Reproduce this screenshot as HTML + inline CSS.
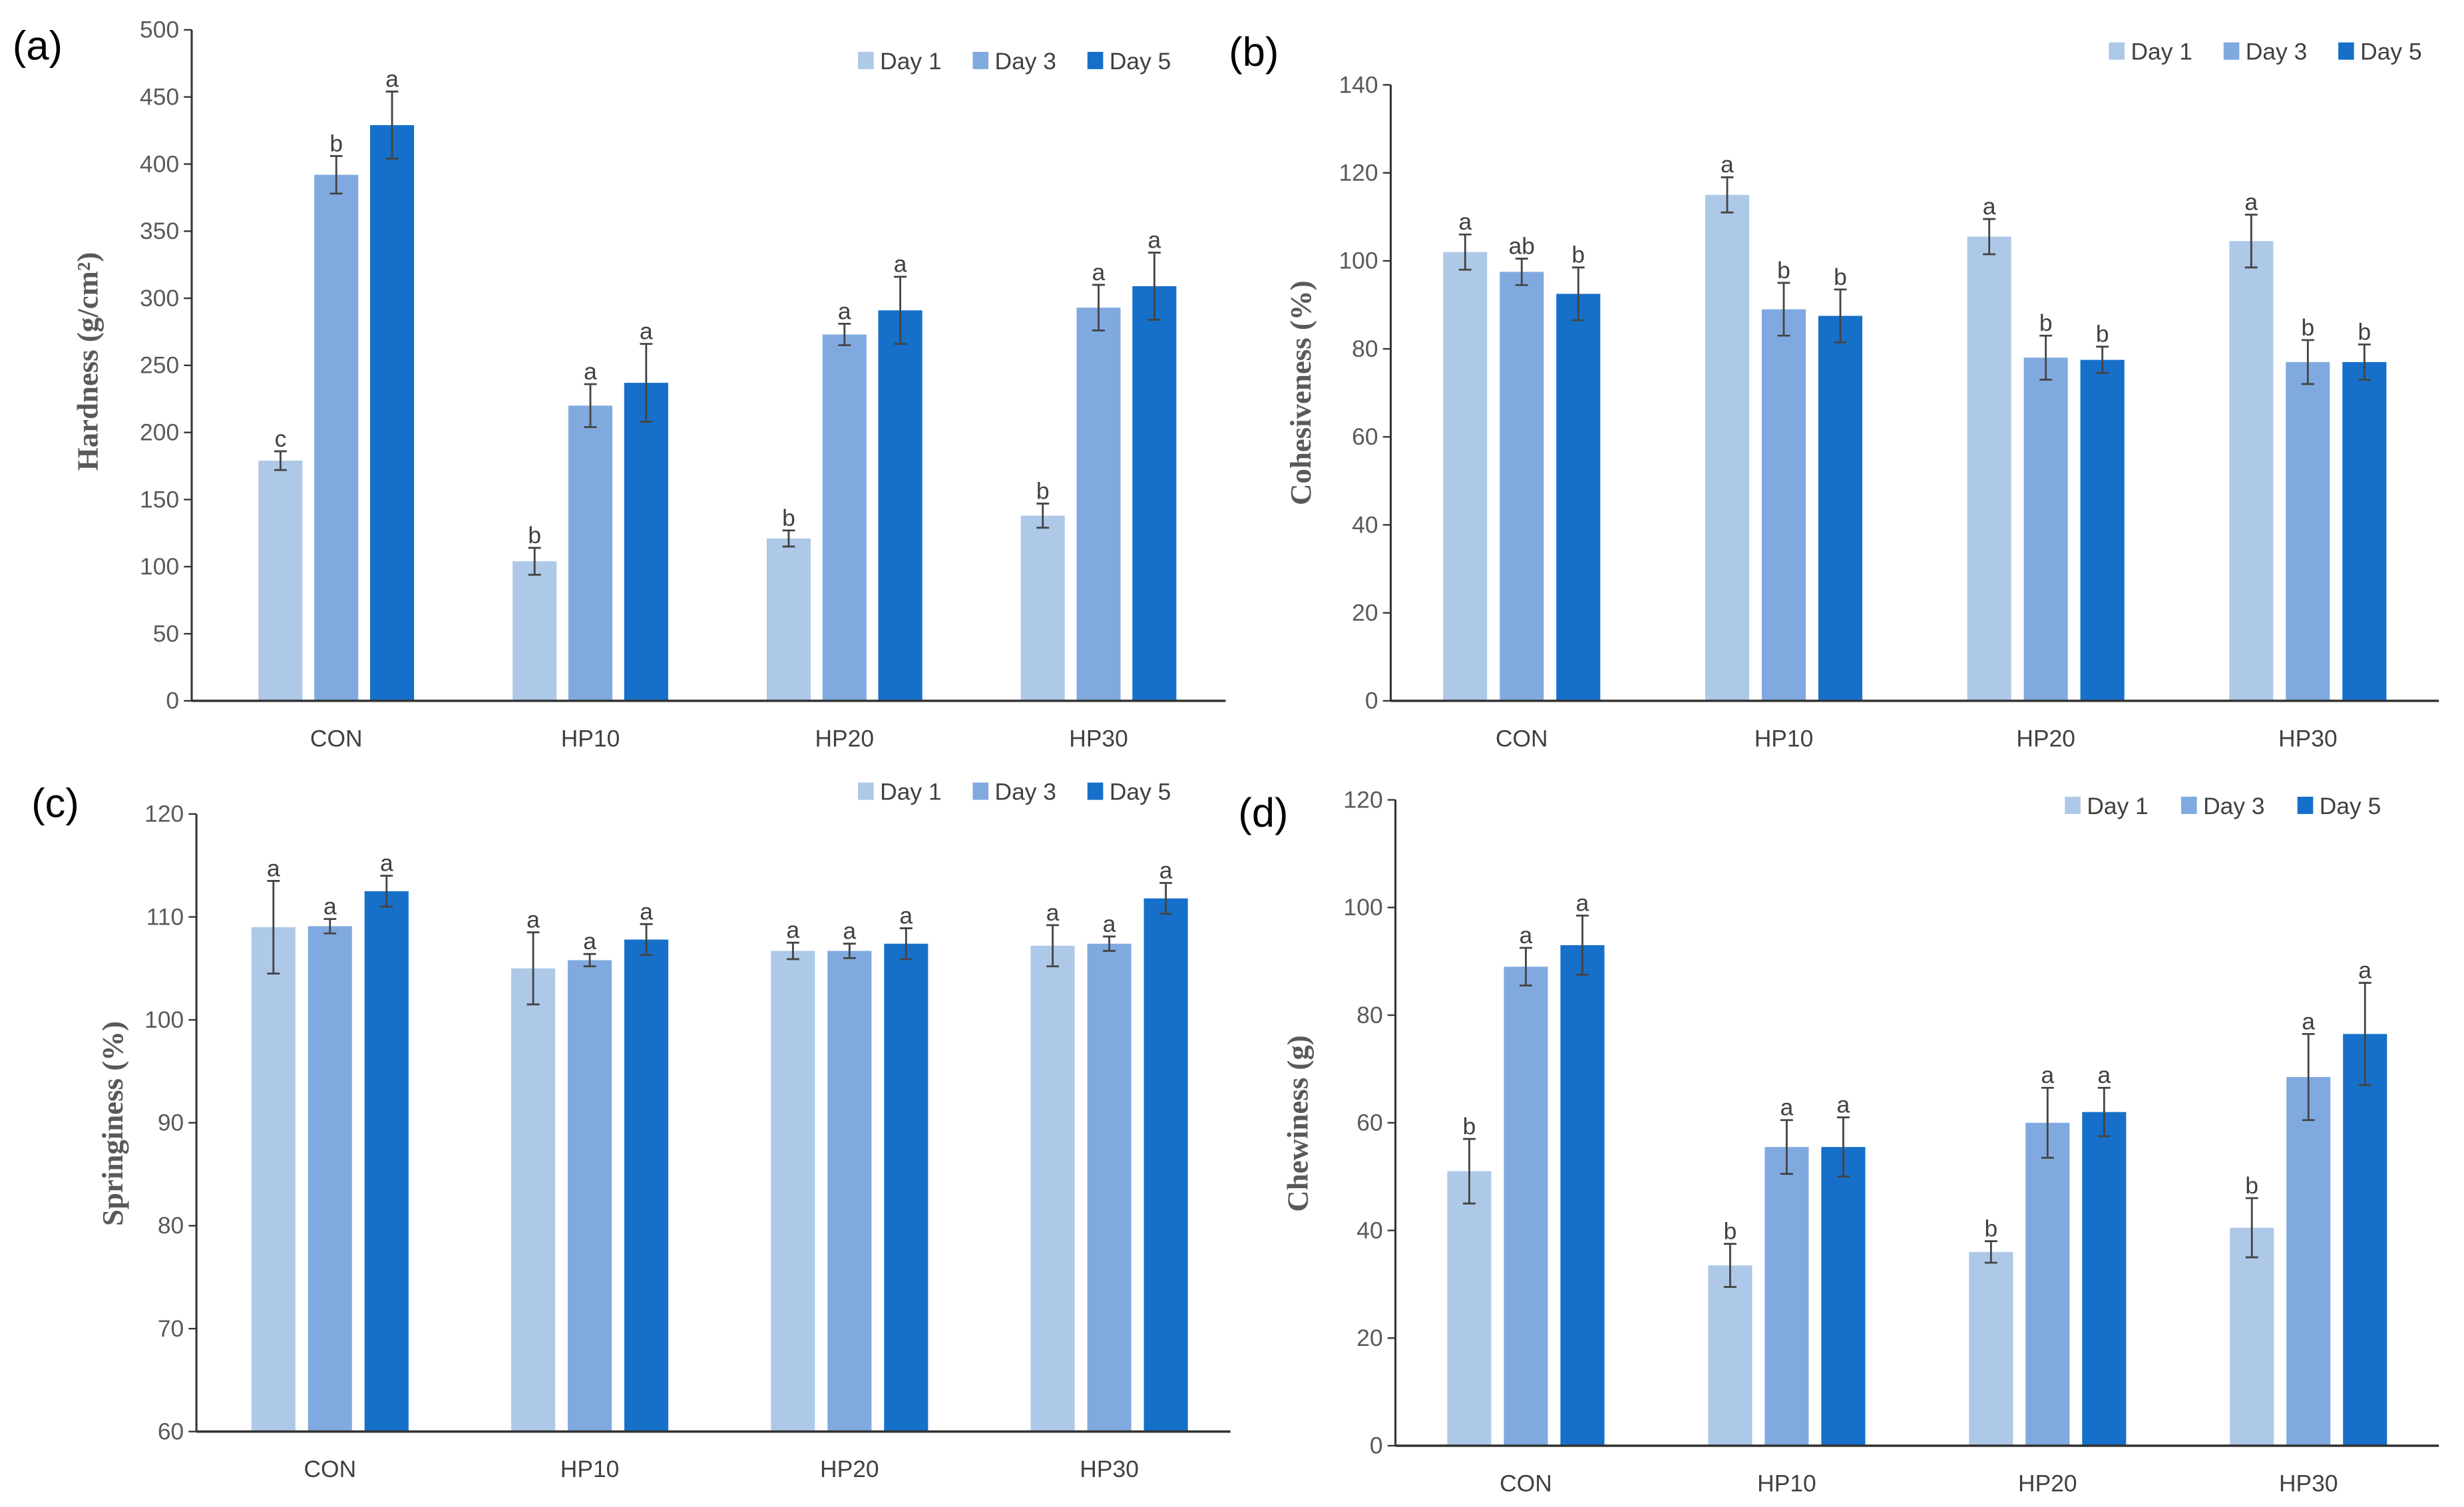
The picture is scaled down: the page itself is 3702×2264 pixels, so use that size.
<!DOCTYPE html>
<html><head><meta charset="utf-8"><style>
html,body{margin:0;padding:0;background:#fff}
svg{display:block}
</style></head><body>
<svg id="fig" width="3702" height="2264" viewBox="0 0 1568 959" preserveAspectRatio="none" xmlns="http://www.w3.org/2000/svg" font-family="'Liberation Sans', sans-serif"></svg>
<script>
const categories = ["CON","HP10","HP20","HP30"];
const seriesNames = ["Day 1","Day 3","Day 5"];
// (a) Hardness
const hardDay1 = [179,104,121,138], hardDay3 = [392,220,273,293], hardDay5 = [429,237,291,309];
const hardErr1 = [7,10,6,9], hardErr3 = [14,16,8,17], hardErr5 = [25,29,25,25];
const hardLetters = [["c","b","a"],["b","a","a"],["b","a","a"],["b","a","a"]];
const hardTicks = [0,50,100,150,200,250,300,350,400,450,500];
// (b) Cohesiveness
const cohDay1 = [102,115,105.5,104.5], cohDay3 = [97.5,89,78,77], cohDay5 = [92.5,87.5,77.5,77];
const cohErr1 = [4,4,4,6], cohErr3 = [3,6,5,5], cohErr5 = [6,6,3,4];
const cohLetters = [["a","ab","b"],["a","b","b"],["a","b","b"],["a","b","b"]];
const cohTicks = [0,20,40,60,80,100,120,140];
// (c) Springiness
const sprDay1 = [109,105,106.7,107.2], sprDay3 = [109.1,105.8,106.7,107.4], sprDay5 = [112.5,107.8,107.4,111.8];
const sprErr1 = [4.5,3.5,0.8,2], sprErr3 = [0.7,0.6,0.7,0.7], sprErr5 = [1.5,1.5,1.5,1.5];
const sprLetters = [["a","a","a"],["a","a","a"],["a","a","a"],["a","a","a"]];
const sprTicks = [60,70,80,90,100,110,120];
// (d) Chewiness
const chwDay1 = [51,33.5,36,40.5], chwDay3 = [89,55.5,60,68.5], chwDay5 = [93,55.5,62,76.5];
const chwErr1 = [6,4,2,5.5], chwErr3 = [3.5,5,6.5,8], chwErr5 = [5.5,5.5,4.5,9.5];
const chwLetters = [["b","a","a"],["b","a","a"],["b","a","a"],["b","a","a"]];
const chwTicks = [0,20,40,60,80,100,120];

const colors = ["#aec8e8","#80aadf","#1670c9"];
const NS = "http://www.w3.org/2000/svg";
const svg = document.getElementById("fig");
function mk(tag, attrs, parent, txt){
  const e = document.createElementNS(NS, tag);
  for (const k in attrs) e.setAttribute(k, attrs[k]);
  if (txt !== undefined) e.textContent = txt;
  (parent||svg).appendChild(e);
  return e;
}
function panel(cfg){
  const g = mk("g", {});
  
  
  const lo = cfg.ticks[0], hi = cfg.ticks[cfg.ticks.length-1];
  const y = v => cfg.y0 - (v-lo)/(hi-lo)*(cfg.y0-cfg.yTop);
  const step = cfg.step || (cfg.xEnd - cfg.ax)/categories.length;
  const first = cfg.c0 || (cfg.ax + step*0.5);
  const xc = i => first + step*i;
  const off = cfg.off, bw = cfg.bw;
  cfg.ticks.forEach(t=>{
    const tl = mk("text",{x:cfg.ax-8,y:y(t)+5,"text-anchor":"end","font-size":15,fill:"#595959"},g,String(t));
    
    
    const tk = mk("line",{x1:cfg.ax-5,x2:cfg.ax,y1:y(t),y2:y(t),stroke:"#333","stroke-width":1},g);
    
    
  });
  const vals = [cfg.d1,cfg.d3,cfg.d5], errs = [cfg.e1,cfg.e3,cfg.e5];
  categories.forEach((c,i)=>{
    for (let s=0;s<3;s++){
      const cx = xc(i) + (s-1)*off;
      const v = vals[s][i], e = errs[s][i];
      const b = mk("rect",{x:cx-bw/2,y:y(v),width:bw,height:y(lo)-y(v),fill:colors[s]},g);
      
      
      const eb = mk("path",{d:`M${cx},${y(v+e)}V${y(v-e)}M${cx-4},${y(v+e)}H${cx+4}M${cx-4},${y(v-e)}H${cx+4}`,stroke:"#444","stroke-width":1.2,fill:"none"},g);
      
      
      const lt = mk("text",{x:cx,y:y(v+e)-3,"text-anchor":"middle","font-size":15,fill:"#404040"},g,cfg.letters[i][s]);
      
      
    }
    const cl = mk("text",{x:xc(i),y:cfg.y0+29,"text-anchor":"middle","font-size":15,fill:"#404040"},g,c);
    
    
  });
  const axy = mk("line",{x1:cfg.ax,x2:cfg.ax,y1:cfg.yTop,y2:cfg.y0,stroke:"#333","stroke-width":1.3},g);
  
  
  const axx = mk("line",{x1:cfg.ax,x2:cfg.xEnd,y1:cfg.y0,y2:cfg.y0,stroke:"#333","stroke-width":1.5},g);
  
  
  const yt = mk("text",{transform:`translate(${cfg.tx},${cfg.ty}) rotate(-90)`,"text-anchor":"middle","font-size":19,"font-weight":"bold","font-family":"'Liberation Serif', serif",fill:"#595959"},g,cfg.title);
  
  
  const pl = mk("text",{x:cfg.px,y:cfg.py,"font-size":26,fill:"#000"},g,cfg.plabel);
  
  
  seriesNames.forEach((n,s)=>{
    const lx = cfg.lx + s*cfg.lstep;
    const sw = mk("rect",{x:lx,y:cfg.ly-6,width:10,height:11,fill:colors[s]},g);
    
    
    const lt = mk("text",{x:lx+14,y:cfg.ly+5,"font-size":15,fill:"#404040"},g,n);
    
    
  });
}
panel({name:"hardness-chart",ticks:hardTicks,ax:122,xEnd:780,y0:446,yTop:19,off:35.5,bw:28,c0:214,step:161.7,
  d1:hardDay1,d3:hardDay3,d5:hardDay5,e1:hardErr1,e3:hardErr3,e5:hardErr5,letters:hardLetters,
  title:"Hardness (g/cm²)",tx:62,ty:230,plabel:"(a)",px:8,py:38,lx:546,ly:39,lstep:73});
panel({name:"cohesiveness-chart",ticks:cohTicks,ax:885,xEnd:1552,y0:446,yTop:54,off:36,bw:28,
  d1:cohDay1,d3:cohDay3,d5:cohDay5,e1:cohErr1,e3:cohErr3,e5:cohErr5,letters:cohLetters,
  title:"Cohesiveness (%)",tx:834,ty:250,plabel:"(b)",px:782,py:42,lx:1342,ly:33,lstep:73});
panel({name:"springiness-chart",ticks:sprTicks,ax:125,xEnd:783,y0:911,yTop:518,off:36,bw:28,c0:210,step:165.3,
  d1:sprDay1,d3:sprDay3,d5:sprDay5,e1:sprErr1,e3:sprErr3,e5:sprErr5,letters:sprLetters,
  title:"Springiness (%)",tx:78,ty:715,plabel:"(c)",px:20,py:520,lx:546,ly:504,lstep:73});
panel({name:"chewiness-chart",ticks:chwTicks,ax:888,xEnd:1552,y0:920,yTop:509,off:36,bw:28,
  d1:chwDay1,d3:chwDay3,d5:chwDay5,e1:chwErr1,e3:chwErr3,e5:chwErr5,letters:chwLetters,
  title:"Chewiness (g)",tx:832,ty:715,plabel:"(d)",px:788,py:526,lx:1314,ly:513,lstep:74});
</script>
</body></html>
